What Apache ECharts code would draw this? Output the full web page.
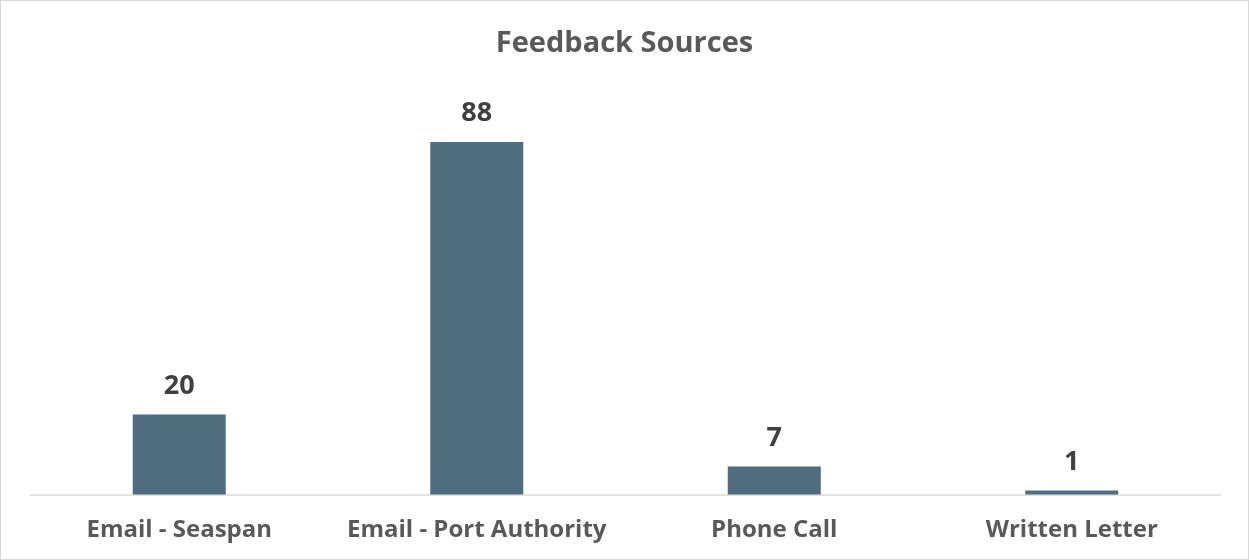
<!DOCTYPE html>
<html>
<head>
<meta charset="utf-8">
<script src="https://cdn.jsdelivr.net/npm/echarts@6/dist/echarts.min.js"></script>
<style>
    html, body { margin: 0; padding: 0; background: #fff; }
    #div_feedback { width: 1249px; height: 560px; box-sizing: border-box; border: 1.5px solid #d9d9d9; }
</style>
</head>
<body>
<div id="div_feedback"></div>
<script>
// 反馈来源
const categories = ['Email - Seaspan', 'Email - Port Authority', 'Phone Call', 'Written Letter'];
const counts = [20, 88, 7, 1];

const initFeedbackChart = function () {
    const option = {
        animation: false,
        title: {
            text: 'Feedback Sources',
            left: 'center',
            top: 23,
            textStyle: {
                fontFamily: 'Open Sans',
                fontSize: 29,
                fontWeight: 'bold',
                color: '#595959'
            }
        },
        grid: {
            top: 93,
            bottom: 64.5,
            left: 29.5,
            right: 27.5
        },
        xAxis: {
            type: 'category',
            data: categories,
            axisTick: {show: false},
            axisLine: {
                lineStyle: {color: '#d9d9d9', width: 1.5}
            },
            axisLabel: {
                interval: 0,
                hideOverlap: false,
                margin: 24,
                fontFamily: 'Open Sans',
                fontSize: 24,
                fontWeight: 'bold',
                color: '#595959'
            }
        },
        yAxis: {
            type: 'value',
            min: 0,
            max: 100,
            show: false,
            splitLine: {show: false}
        },
        series: [
            {
                type: 'bar',
                data: counts,
                barWidth: 93,
                itemStyle: {color: '#4f6d7f'},
                label: {
                    show: true,
                    position: 'top',
                    distance: 15,
                    fontFamily: 'Open Sans',
                    fontSize: 27,
                    fontWeight: 'bold',
                    color: '#404040'
                }
            }
        ]
    };
    const chart = echarts.init(document.getElementById('div_feedback'));
    chart.setOption(option);
}

initFeedbackChart();
</script>
</body>
</html>
